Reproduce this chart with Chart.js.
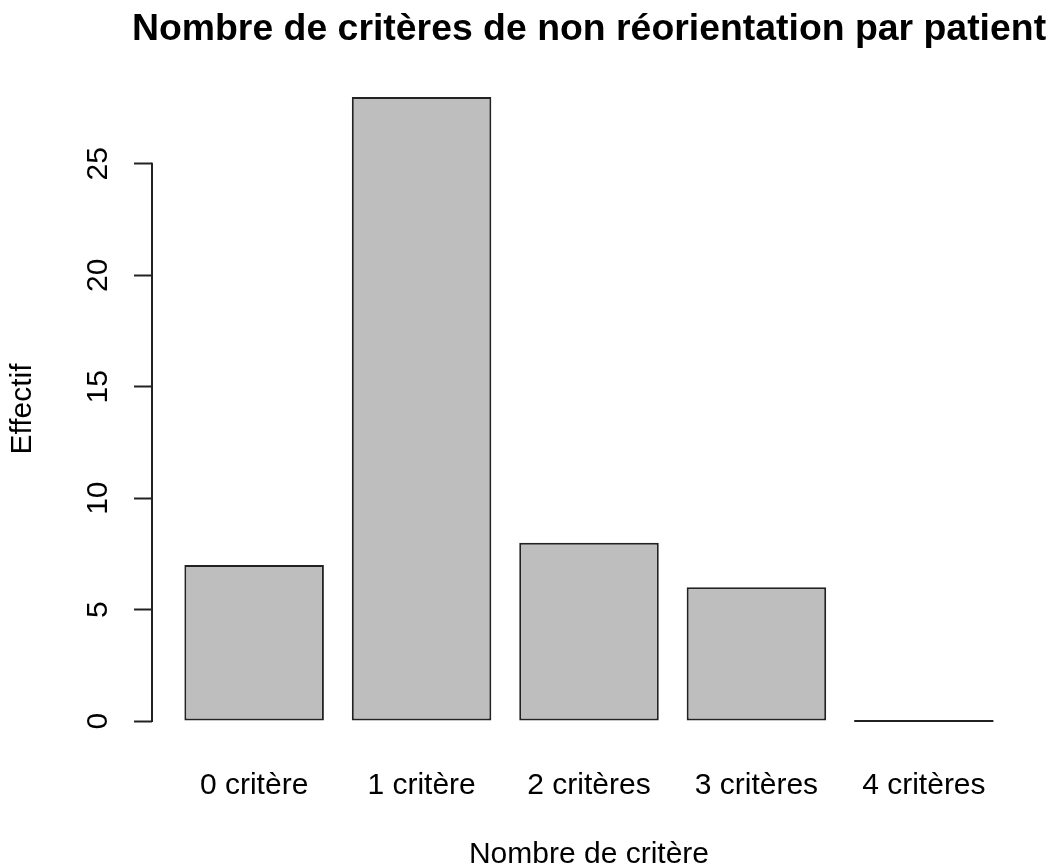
<!DOCTYPE html>
<html>
<head>
<meta charset="utf-8">
<script src="https://cdn.jsdelivr.net/npm/chart.js@4"></script>
<style>
  body { margin: 0; background: #fff; }
  #wrap { width: 1051px; height: 867px; }
</style>
</head>
<body>
<div id="wrap"><canvas id="bar-chart"></canvas></div>
<script>
  // data
  var categories = ["0 critère", "1 critère", "2 critères", "3 critères", "4 critères"];
  var effectifs = [7, 28, 8, 6, 0];
  var yTicks = [0, 5, 10, 15, 20, 25];
  var mainTitle = "Nombre de critères de non réorientation par patient";

  var FONT = "'Liberation Sans', Arial, sans-serif";
  Chart.defaults.font.family = FONT;
  Chart.defaults.color = "#000";

  // R barplot layout: width 1, space 0.2, axes extended by 4%
  function barCenter(i) { return 0.7 + 1.2 * i; }
  var xMax = barCenter(categories.length - 1) + 0.5;
  var xPad = (xMax - 0.2) * 0.04;
  var yMax = Math.max.apply(null, effectifs);
  var yPad = yMax * 0.04;

  // axis line from first to last tick + main title over the plot region
  var rDecor = {
    id: "rDecor",
    afterDraw: function (chart) {
      var ctx = chart.ctx;
      var area = chart.chartArea;
      var y = chart.scales.y;
      ctx.save();
      ctx.strokeStyle = "#222";
      ctx.lineWidth = 2;
      ctx.lineCap = "square";
      ctx.beginPath();
      ctx.moveTo(area.left, y.getPixelForValue(yTicks[0]));
      ctx.lineTo(area.left, y.getPixelForValue(yTicks[yTicks.length - 1]));
      ctx.stroke();

      ctx.fillStyle = "#000";
      ctx.font = "bold 37.4px " + FONT;
      ctx.textAlign = "center";
      ctx.textBaseline = "alphabetic";
      ctx.fillText(mainTitle, (area.left + area.right) / 2, 40);
      ctx.restore();
    }
  };

  var ctx = document.getElementById("bar-chart").getContext("2d");
  var myChart = new Chart(ctx, {
    type: "bar",
    data: {
      datasets: [
        {
          data: effectifs.map(function (v, i) { return { x: barCenter(i), y: v }; }),
          backgroundColor: "#BEBEBE",
          borderColor: "#222",
          borderWidth: 2,
          borderSkipped: false,
          minBarLength: 2,
          barPercentage: 1 / 1.2,
          categoryPercentage: 1,
        },
      ],
    },
    options: {
      responsive: true,
      maintainAspectRatio: false,
      animation: false,
      layout: { padding: { top: 72, right: 25, left: 0, bottom: 0 } },
      plugins: {
        legend: { display: false },
        title: { display: false },
        tooltip: { enabled: false },
      },
      scales: {
        x: {
          type: "linear",
          offset: false,
          min: 0.2 - xPad,
          max: xMax + xPad,
          afterBuildTicks: function (axis) {
            axis.ticks = categories.map(function (c, i) { return { value: barCenter(i) }; });
          },
          afterFit: function (axis) { axis.height = 121; },
          grid: { display: false, drawTicks: false, offset: false },
          border: { display: false },
          ticks: {
            autoSkip: false,
            maxRotation: 0,
            padding: 22,
            font: { size: 30 },
            callback: function (value, index) { return categories[index]; },
          },
          title: {
            display: true,
            text: "Nombre de critère",
            font: { size: 30, lineHeight: 0.85 },
            padding: { top: 0, bottom: 0 },
          },
        },
        y: {
          min: -yPad,
          max: yMax + yPad,
          afterBuildTicks: function (axis) {
            axis.ticks = yTicks.map(function (v) { return { value: v }; });
          },
          afterFit: function (axis) { axis.width = 152; },
          grid: {
            drawOnChartArea: false,
            drawTicks: true,
            tickLength: 18,
            tickColor: "#222",
            tickWidth: 2,
          },
          border: { display: false },
          ticks: {
            minRotation: 90,
            maxRotation: 90,
            crossAlign: "center",
            padding: 19,
            font: { size: 30 },
          },
          title: {
            display: true,
            text: "Effectif",
            font: { size: 30 },
            padding: { top: 5, bottom: 0 },
          },
        },
      },
    },
    plugins: [rDecor],
  });
</script>
</body>
</html>
